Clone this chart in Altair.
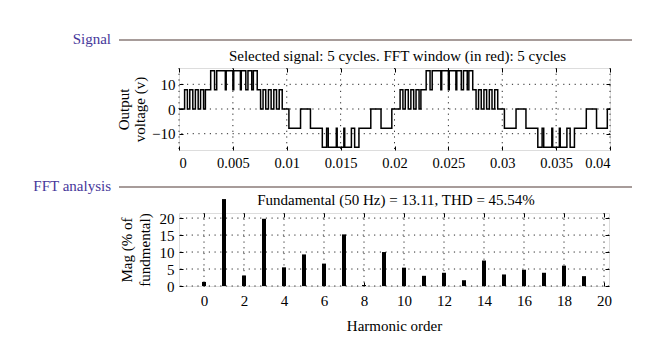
import altair as alt
import pandas as pd

FONT = "Liberation Serif"
HEAD_COLOR = "#46379a"
RULE_COLOR = "#8a7b79"

# ---- Signal: switching instants (ms) and output levels (V) ----
sig_ms = [0.0, 0.52, 0.78, 1.0, 1.28, 1.52, 1.78, 2.0, 2.28, 2.45, 2.94, 3.3, 3.5, 4.3, 4.38, 5.0, 5.08,
          5.7, 5.78, 6.2, 6.4, 6.75, 6.9, 7.26, 7.57, 7.8, 8.05, 8.3, 8.55, 8.8, 9.05, 9.3, 9.58,
          10.2, 11.28, 12.2, 13.3, 13.7, 13.85, 14.6, 14.68, 15.3, 15.38, 16.0, 16.3, 16.7, 17.8, 18.75, 19.75,
          20.52, 20.78, 21.0, 21.28, 21.52, 21.78, 22.0, 22.28, 22.45, 22.94, 23.3, 23.5, 24.3, 24.38, 25.0, 25.08,
          25.7, 25.78, 26.2, 26.4, 26.75, 26.9, 27.26, 27.57, 27.8, 28.05, 28.3, 28.55, 28.8, 29.05, 29.3, 29.58,
          30.2, 31.28, 32.2, 33.3, 33.7, 33.85, 34.6, 34.68, 35.3, 35.38, 36.0, 36.3, 36.7, 37.8, 38.75, 39.75, 40.0]
sig_v = [0, 7.75, 0, 7.75, 0, 7.75, 0, 7.75, 0, 7.75, 15.5, 7.75, 15.5, 7.75, 15.5, 7.75, 15.5,
         7.75, 15.5, 7.75, 15.5, 7.75, 15.5, 7.75, 0, 7.75, 0, 7.75, 0, 7.75, 0, 7.75, 0,
         -7.75, 0, -7.75, -15.5, -7.75, -15.5, -7.75, -15.5, -7.75, -15.5, -7.75, -15.5, -7.75, 0, -7.75, 0,
         7.75, 0, 7.75, 0, 7.75, 0, 7.75, 0, 7.75, 15.5, 7.75, 15.5, 7.75, 15.5, 7.75, 15.5,
         7.75, 15.5, 7.75, 15.5, 7.75, 15.5, 7.75, 0, 7.75, 0, 7.75, 0, 7.75, 0, 7.75, 0,
         -7.75, 0, -7.75, -15.5, -7.75, -15.5, -7.75, -15.5, -7.75, -15.5, -7.75, -15.5, -7.75, 0, -7.75, 0, 0]

time_ticks = [0, 0.005, 0.01, 0.015, 0.02, 0.025, 0.03, 0.035, 0.04]
volt_ticks = [-10, 0, 10]

# ---- FFT analysis ----
harm_order = list(range(20))
harm_mag = [1.2, 100, 3.1, 19.8, 5.5, 9.3, 6.6, 15.2, 0.3, 10.0, 5.4, 3.0, 3.9, 1.7, 7.5, 3.4, 4.8, 3.9, 6.0, 2.9]
harm_ticks = [0, 2, 4, 6, 8, 10, 12, 14, 16, 18, 20]
mag_ticks = [0, 5, 10, 15, 20]

top_title = "Selected signal: 5 cycles. FFT window (in red): 5 cycles"
bot_title = "Fundamental (50 Hz) = 13.11, THD = 45.54%"

W_TOP, H_TOP = 431, 82
W_BOT, H_BOT = 430, 73

sig_df = pd.DataFrame({"t": [m / 1000 for m in sig_ms], "v": sig_v})
fft_df = pd.DataFrame({"h": harm_order, "m": harm_mag})

grid_dash = [1.2, 4.5]


def tick_axis(orient, values, labels=True, fmt=None, title=None, **kw):
    args = dict(orient=orient, values=values, offset=-4, tickSize=4, tickColor="black", tickWidth=1,
                domain=False, grid=False, labels=labels, title=title,
                labelFont=FONT, labelColor="black", titleFont=FONT, titleColor="black",
                titleFontWeight="normal")
    if fmt:
        args["format"] = fmt
    args.update(kw)
    return alt.Axis(**args)


def text_layer(s, x, y, color="black", align="center", baseline="middle"):
    return alt.Chart(pd.DataFrame({"s": [s]})).mark_text(
        font=FONT, fontSize=15, color=color, align=align, baseline=baseline
    ).encode(text="s:N", x=alt.value(x), y=alt.value(y))


def header_rule(y):
    return alt.Chart(pd.DataFrame({"s": ["rule"]})).mark_rule(color=RULE_COLOR, strokeWidth=1.3).encode(
        x=alt.value(-60), x2=alt.value(453), y=alt.value(y))


# ---------------- top panel ----------------
xs_top = alt.Scale(domain=[0, 0.04], nice=False, zero=False)
ys_top = alt.Scale(domain=[-16.6, 16.6], nice=False, zero=False)

vgrid_top = alt.Chart(pd.DataFrame({"t": time_ticks})).mark_rule(
    color="black", strokeWidth=1, strokeDash=grid_dash, opacity=0.85
).encode(x=alt.X("t:Q", scale=xs_top, axis=None))
hgrid_top = alt.Chart(pd.DataFrame({"v": volt_ticks})).mark_rule(
    color="black", strokeWidth=1, strokeDash=grid_dash, opacity=0.85
).encode(y=alt.Y("v:Q", scale=ys_top, axis=None))

line_top = alt.Chart(sig_df).mark_line(interpolate="step-after", color="black", strokeWidth=1.5).encode(
    x=alt.X("t:Q", scale=xs_top,
            axis=tick_axis("bottom", time_ticks, fmt="~g", labelFontSize=14.5, labelPadding=6)),
    y=alt.Y("v:Q", scale=ys_top,
            axis=tick_axis("left", volt_ticks, labelFontSize=15, labelPadding=4,
                           title=["Output", "voltage (v)"], titleFontSize=15, titleLineHeight=16,
                           titlePadding=4)),
)
frame_top = alt.Chart(sig_df).mark_line(opacity=0, clip=True).encode(
    x=alt.X("t:Q", scale=xs_top, axis=tick_axis("top", time_ticks, labels=False)),
    y=alt.Y("v:Q", scale=ys_top, axis=tick_axis("right", volt_ticks, labels=False)),
)

top = alt.layer(
    vgrid_top, hgrid_top, line_top, frame_top,
    text_layer("Signal", -68, -29, color=HEAD_COLOR, align="right"),
    header_rule(-28),
    text_layer(top_title, W_TOP / 2 + 3, -4, baseline="bottom"),
).resolve_axis(x="independent", y="independent").properties(width=W_TOP, height=H_TOP)

# ---------------- bottom panel ----------------
xs_bot = alt.Scale(domain=[-1, 20], nice=False, zero=False)
ys_bot = alt.Scale(domain=[0, 21.5], nice=False, zero=False)

vgrid_bot = alt.Chart(pd.DataFrame({"h": harm_ticks})).mark_rule(
    color="black", strokeWidth=1, strokeDash=grid_dash, opacity=0.85
).encode(x=alt.X("h:Q", scale=xs_bot, axis=None))
hgrid_bot = alt.Chart(pd.DataFrame({"m": mag_ticks})).mark_rule(
    color="black", strokeWidth=1, strokeDash=grid_dash, opacity=0.85
).encode(y=alt.Y("m:Q", scale=ys_bot, axis=None))

bars = alt.Chart(fft_df).transform_calculate(
    shown="min(datum.m, 25.6)"
).mark_bar(color="black", size=4, clip=False).encode(
    x=alt.X("h:Q", scale=xs_bot,
            axis=tick_axis("bottom", harm_ticks, labelFontSize=15, labelPadding=7,
                           title="Harmonic order", titleFontSize=15, titlePadding=10)),
    y=alt.Y("shown:Q", scale=ys_bot,
            axis=tick_axis("left", mag_ticks, labelFontSize=15, labelPadding=5,
                           title=["Mag (% of", "fundmental)"], titleFontSize=15, titleLineHeight=18,
                           titlePadding=7)),
)
frame_bot = alt.Chart(fft_df).mark_point(opacity=0, clip=True).encode(
    x=alt.X("h:Q", scale=xs_bot, axis=tick_axis("top", harm_ticks, labels=False)),
    y=alt.Y("m:Q", scale=ys_bot, axis=tick_axis("right", mag_ticks, labels=False)),
)

bottom = alt.layer(
    vgrid_bot, hgrid_bot, bars, frame_bot,
    text_layer("FFT analysis", -68, -27, color=HEAD_COLOR, align="right"),
    header_rule(-26),
    text_layer(bot_title, W_BOT / 2 + 2, -5, baseline="bottom"),
).resolve_axis(x="independent", y="independent").properties(width=W_BOT, height=H_BOT)

chart = alt.vconcat(top, bottom, spacing=63, bounds="flush").properties(
    padding={"left": 24, "top": 23, "right": 5, "bottom": 5}
).configure_view(stroke="black", strokeWidth=1.2).configure(background="white")

chart.save("out.html", embed_options={"renderer": "svg", "actions": False})
